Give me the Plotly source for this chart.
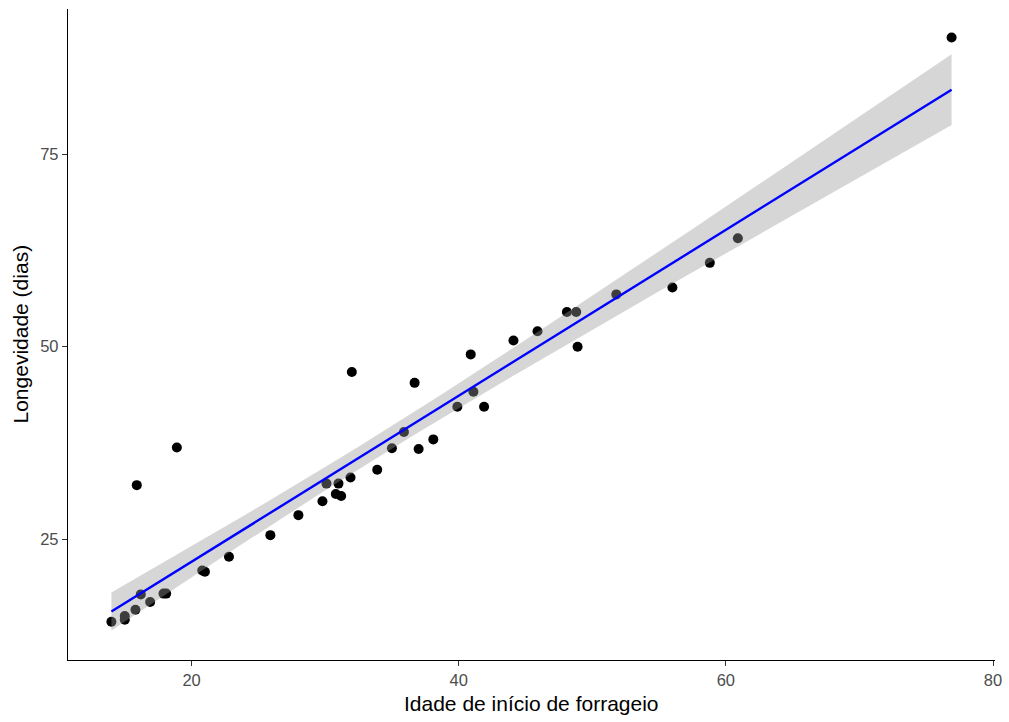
import numpy as np
import plotly.graph_objects as go

# Data
idade_inicio = [14.0, 15.0, 15.0, 15.8, 16.2, 16.9, 17.9, 18.1, 15.9, 18.9,
                20.8, 21.0, 22.8, 25.9, 28.0, 29.8, 30.1, 31.0, 30.8, 31.2,
                31.9, 32.0, 33.9, 35.0, 35.9, 37.0, 36.7, 38.1, 39.9, 41.1,
                41.9, 40.9, 44.1, 45.9, 48.1, 48.8, 48.9, 51.8, 56.0, 58.8,
                60.9, 76.9]
longevidade = [14.25, 15.0, 14.5, 15.8, 17.8, 16.8, 17.9, 17.9, 32.0, 36.9,
               20.9, 20.75, 22.7, 25.5, 28.1, 29.9, 32.2, 32.2, 30.85, 30.6,
               33.0, 46.7, 34.0, 36.8, 38.9, 36.7, 45.3, 37.95, 42.2, 44.15,
               42.2, 49.0, 50.8, 52.0, 54.5, 54.5, 50.0, 56.8, 57.7, 60.9,
               64.1, 90.2]

x_ticks = [20, 40, 60, 80]
y_ticks = [25, 50, 75]

# Linear model fit with 95% confidence band (like geom_smooth(method="lm"))
x = np.array(idade_inicio)
y = np.array(longevidade)
n = len(x)
b1, b0 = np.polyfit(x, y, 1)
resid = y - (b0 + b1 * x)
s = np.sqrt(np.sum(resid ** 2) / (n - 2))
xbar = x.mean()
sxx = np.sum((x - xbar) ** 2)
t_crit = 2.0211  # t quantile 0.975, df = 40
xs = np.linspace(x.min(), x.max(), 80)
ys = b0 + b1 * xs
se = s * np.sqrt(1.0 / n + (xs - xbar) ** 2 / sxx)
upper = ys + t_crit * se
lower = ys - t_crit * se

fig = go.Figure()
fig.add_trace(go.Scatter(x=idade_inicio, y=longevidade, mode="markers",
                         marker=dict(color="black", size=10, line=dict(width=0)),
                         hoverinfo="skip", showlegend=False))
fig.add_trace(go.Scatter(x=np.concatenate([xs, xs[::-1]]),
                         y=np.concatenate([upper, lower[::-1]]),
                         fill="toself", fillcolor="rgba(153,153,153,0.4)",
                         mode="lines", line=dict(width=0),
                         hoverinfo="skip", showlegend=False))
fig.add_trace(go.Scatter(x=xs, y=ys, mode="lines",
                         line=dict(color="#0000FF", width=2.4),
                         hoverinfo="skip", showlegend=False))

axis_common = dict(showgrid=False, zeroline=False, showline=True,
                   linecolor="black", linewidth=1.3, ticks="outside",
                   ticklen=5, tickwidth=1.3, tickcolor="#333333",
                   tickfont=dict(family="Liberation Sans, Arial, sans-serif",
                                 size=16.5, color="#4D4D4D"))

fig.update_layout(
    width=1009, height=722,
    margin=dict(l=68, r=14, t=9, b=62, autoexpand=False),
    paper_bgcolor="white", plot_bgcolor="white",
    xaxis=dict(range=[10.75, 80.15], tickvals=x_ticks, **axis_common),
    yaxis=dict(range=[9.27, 93.9], tickvals=y_ticks, **axis_common),
    font=dict(family="Liberation Sans, Arial, sans-serif"),
    annotations=[
        dict(text="Idade de início de forrageio", xref="paper", yref="paper",
             x=0.5, y=0, yshift=-43, xanchor="center", yanchor="middle",
             showarrow=False, font=dict(size=21, color="black")),
        dict(text="Longevidade (dias)", xref="paper", yref="paper",
             x=0, y=0.5, xshift=-48, xanchor="center", yanchor="middle",
             textangle=-90, showarrow=False,
             font=dict(size=21, color="black")),
    ],
)

fig.write_html("out.html")
